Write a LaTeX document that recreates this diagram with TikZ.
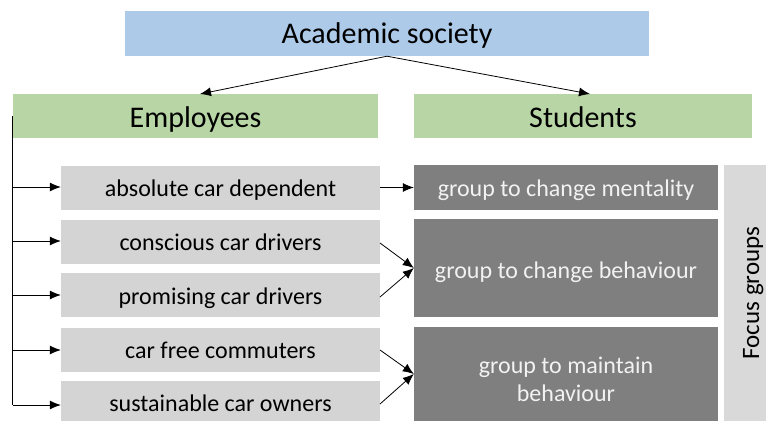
\documentclass[tikz,border=0pt]{standalone}
\usepackage{fontspec}
\setmainfont{Carlito}
\usetikzlibrary{arrows.meta}
\definecolor{socblue}{HTML}{ADCAE8}
\definecolor{grpgreen}{HTML}{B8D5A5}
\definecolor{typegray}{HTML}{D4D4D4}
\definecolor{focusgray}{HTML}{7F7F7F}
\definecolor{sidegray}{HTML}{D9D9D9}
\begin{document}
\begin{tikzpicture}[x=1pt,y=-1pt,
  box/.style={inner sep=0pt,align=center,text depth=0pt},
  head/.style={box,fill=grpgreen,minimum width=#1,minimum height=44pt,text height=22pt,font=\fontsize{30}{36}\selectfont},
  type/.style={box,fill=typegray,minimum width=319pt,minimum height=44pt,text height=18pt,font=\fontsize{24}{28}\selectfont},
  focus/.style={box,fill=focusgray,text=white!95!black,minimum width=304pt,minimum height=#1,font=\fontsize{24}{28}\selectfont},
  link/.style={-{Latex[length=11pt,width=9pt]},line width=0.8pt}]
\useasboundingbox (0,0) rectangle (766,421);
\node[box,fill=socblue,minimum width=524pt,minimum height=45pt,text height=20pt,font=\fontsize{30}{36}\selectfont] (soc) at (387,33.5) {Academic society};
\node[head=365pt] (emp) at (195.5,116) {Employees};
\node[head=338pt] (stu) at (583,116) {Students};
\node[type] (abs) at (220.5,187.5) {absolute car dependent};
\node[type] (con) at (220.5,241.5) {conscious car drivers};
\node[type] (pro) at (220.5,295) {promising car drivers};
\node[type] (fre) at (220.5,349.5) {car free commuters};
\node[type,minimum height=40pt,text height=20pt] (sus) at (220.5,401) {sustainable car owners};
\node[focus=45pt,text height=17pt] (ment) at (566,187.5) {group to change mentality};
\node[focus=98pt,text height=21pt] (beh) at (566,268) {group to change behaviour};
\node[focus=94pt,text height=54pt] (main) at (566,374) {group to maintain\\behaviour};
\node[box,fill=sidegray,minimum width=42pt,minimum height=256pt] (fg) at (745,293) {};
\node[rotate=90,anchor=base,inner sep=0pt,font=\fontsize{25}{30}\selectfont] (fgtext) at ([xshift=14pt]fg.center) {Focus groups};
\draw[link] (soc.south) -- (200,94);
\draw[link] (soc.south) -- (590,94);
\draw[line width=0.8pt] (emp.west) -- (emp.west |- 0,405);
\foreach \n/\yy in {abs/187,con/241,pro/295,fre/350,sus/405}
  \draw[link] (13,\yy) -- (\n.west |- 0,\yy);
\draw[link] (abs.east) -- (ment.west);
\draw[link] (380,243) -- (beh.west);
\draw[link] (380,297) -- (beh.west);
\draw[link] (380,350) -- (main.west);
\draw[link] (380,404) -- (main.west);
\end{tikzpicture}
\end{document}
